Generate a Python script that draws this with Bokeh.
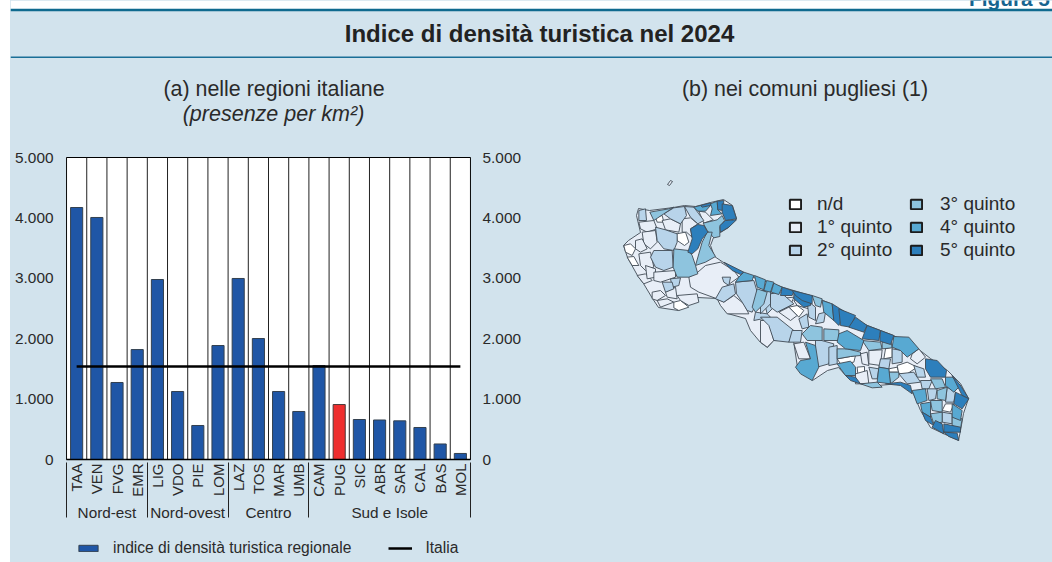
import math
from bokeh.plotting import figure
from bokeh.layouts import column, row
from bokeh.models import (Range1d, FactorRange, LinearAxis, FixedTicker, Legend, LegendItem)
from bokeh.core.properties import value
from bokeh.embed import file_html
from bokeh.resources import INLINE

PANEL = "#d2e3ed"
TEXT = "#2a2a2a"
FONT = value("Liberation Sans")
BG = {"background-color": PANEL}

GROUPS = ["Nord-est"]*4 + ["Nord-ovest"]*4 + ["Centro"]*4 + ["Sud e Isole"]*8
REGIONS = ["TAA","VEN","FVG","EMR","LIG","VDO","PIE","LOM","LAZ","TOS","MAR","UMB","CAM","PUG","SIC","ABR","SAR","CAL","BAS","MOL"]
VALUES = [4172,4007,1275,1820,2980,1126,563,1887,2997,2003,1126,795,1556,910,662,654,640,530,257,100]
ITALIA = 1540
HIGHLIGHT = "PUG"
Y_TICKS = [0,1000,2000,3000,4000,5000]
Y_LABELS = ["0","1.000","2.000","3.000","4.000","5.000"]

QUINT_LABELS = ["n/d","1° quinto","2° quinto","3° quinto","4° quinto","5° quinto"]
QUINT_COLORS = ["#ffffff","#e8eef7","#b8d4ea","#8ec4de","#58a9d2","#2d7fbc"]

OUTLINE = [(638,208),(649,210),(673,207),(684,205),(695,206),(710,202),(723,199),(732,205),(736,218),(728,227),(720,232),(713,237),(710,245),(714,256),(723,262),(737,270),(753,277),(783,287),(810,295),(830,303),(847,315),(867,325),(893,335),(917,348),(930,358),(947,370),(960,383),(968,398),(963,413),(960,430),(958,440),(947,435),(930,427),(920,410),(913,393),(900,383),(877,385),(860,383),(847,377),(838,367),(827,370),(812,380),(797,367),(793,340),(773,340),(767,347),(760,342),(750,330),(745,318),(727,313),(717,298),(697,297),(678,310),(658,307),(652,298),(643,283),(637,275),(627,257),(623,245),(628,240),(640,232),(636,215)]
TREMITI = [(667,184),(670,180),(672,181),(669,185)]

NORTH_ND = [[(198,190),(225,185),(235,215),(222,225),(200,210)],[(40,225),(60,220),(75,235),(65,255),(45,245)],[(50,260),(70,258),(85,285),(65,285)],[(190,395),(210,390),(235,410),(205,420),(190,412)],[(245,330),(270,310),(285,320),(270,345),(250,345)],[(135,140),(155,135),(160,155),(140,155)]]
NORTH_Q1 = [[(265,122),(285,125),(308,148),(280,158)],[(180,145),(210,160),(205,185),(165,178),(155,150)],[(215,145),(240,142),(262,160),(240,175),(245,200),(228,185),(215,185)],[(85,155),(130,150),(140,175),(110,185),(90,175)],[(95,185),(135,180),(140,215),(120,235),(100,220)],[(75,210),(95,205),(110,235),(90,245),(75,235)],[(85,250),(120,245),(130,290),(105,300),(90,285)],[(80,315),(105,310),(125,330),(100,340)],[(105,285),(135,295),(135,320),(110,325)],[(130,305),(195,300),(195,320),(150,335),(130,330)],[(125,365),(150,360),(165,375),(140,390),(125,385)],[(165,365),(195,350),(200,385),(170,380)],[(140,390),(170,385),(190,395),(150,410)],[(200,375),(260,370),(265,395),(235,405),(210,390)],[(235,320),(262,305),(285,285),(330,275),(370,300),(385,320),(350,345),(320,385),(265,365),(240,350)],[(320,385),(340,395),(370,375),(400,400),(415,430),(350,430),(330,405)],[(500,385),(550,380),(540,405),(510,420)]]
NORTH_Q2 = [[(85,120),(105,115),(108,150),(85,150)],[(160,130),(190,112),(222,108),(228,135),(210,160),(180,145)],[(222,108),(250,110),(265,130),(280,150),(262,160),(240,140)],[(135,170),(165,178),(200,190),(200,215),(190,240),(160,235),(140,210)],[(130,240),(185,240),(188,290),(160,300),(135,290),(120,260)],[(180,325),(210,322),(205,345),(185,350)],[(155,335),(185,335),(190,355),(165,365)],[(335,320),(360,320),(355,345),(340,335)],[(335,350),(370,340),(375,370),(340,395),(315,385)],[(375,335),(430,330),(445,380),(425,425),(410,420),(395,395),(378,370)],[(470,365),(505,375),(500,400),(470,430),(465,410)],[(435,425),(470,430),(480,440),(430,450)]]
NORTH_Q3 = [[(118,125),(175,115),(190,110),(160,130),(130,150)],[(278,158),(320,148),(335,135),(342,150),(328,170),(328,198),(310,202),(290,180)],[(290,185),(305,185),(295,225),(315,258),(285,275),(255,285),(265,250),(275,215)],[(190,235),(235,240),(245,255),(255,285),(262,310),(235,320),(200,320),(188,290)],[(440,355),(470,365),(460,400),(435,425),(425,410)]]
NORTH_Q4 = [[(250,110),(270,105),(300,105),(285,122),(262,122)],[(300,100),(320,92),(322,118),(335,130),(300,135),(305,115)],[(385,320),(400,305),(430,315),(425,330),(375,335)],[(432,315),(465,328),(460,358),(440,350)],[(468,330),(490,335),(480,365),(460,360)],[(490,338),(515,350),(505,372),(482,365)]]
NORTH_Q5 = [[(320,92),(340,90),(338,120),(322,118)],[(335,100),(365,105),(378,145),(345,150),(335,125)],[(345,150),(378,148),(355,170),(330,185),(328,165)],[(262,162),(280,165),(292,185),(275,205),(262,235),(245,250),(232,245),(245,205),(240,175)],[(270,105),(300,97),(300,105),(275,110)],[(340,275),(380,295),(400,305),(390,312),(365,300)],[(515,350),(550,362),(545,375),(510,375)],[(550,362),(600,380),(600,405),(580,410),(550,385)]]

SOUTH_ND = [[(85,110),(110,105),(130,120),(115,140)],[(375,235),(395,230),(395,260),(370,265)],[(230,265),(270,258),(285,255),(280,275),(240,280)],[(385,295),(410,290),(415,305),(385,305)],[(410,285),(440,275),(470,290),(440,310),(415,310)],[(555,400),(580,400),(570,425),(545,420)],[(290,290),(312,288),(312,312),(292,310)]]
SOUTH_Q1 = [[(0,150),(25,150),(40,210),(20,230),(0,215)],[(55,125),(85,110),(110,135),(90,150)],[(100,90),(130,80),(145,115),(110,105)],[(325,240),(365,238),(360,285),(325,280)],[(100,220),(130,215),(150,265),(115,265)],[(300,250),(320,245),(325,285),(305,280)],[(475,235),(495,260),(470,280),(450,265),(455,250)],[(285,310),(320,300),(325,340),(285,340)]]
SOUTH_Q2 = [[(0,140),(50,140),(100,180),(85,215),(40,210),(25,165)],[(95,180),(125,180),(120,215),(85,215)],[(0,60),(30,60),(30,100),(0,130)],[(30,70),(60,65),(100,100),(70,115),(50,125),(30,110)],[(115,145),(140,130),(145,170),(125,175)],[(140,90),(165,110),(165,150),(145,140)],[(175,130),(195,125),(190,155),(165,160)],[(360,265),(390,265),(385,295),(355,290)],[(165,205),(220,220),(205,280),(170,290),(165,250)],[(205,230),(230,225),(230,280),(205,285)],[(325,290),(355,295),(350,325),(335,325)],[(395,235),(425,240),(425,275),(395,280)],[(415,310),(460,305),(480,335),(440,340)],[(460,285),(490,295),(495,320),(470,320)],[(480,330),(515,330),(505,355),(485,355)],[(500,355),(530,355),(525,385),(505,390)],[(560,350),(585,365),(580,395),(555,395)],[(545,425),(575,430),(575,460),(545,455)]]
SOUTH_Q3 = [[(155,75),(185,85),(180,110),(165,105)],[(150,165),(185,170),(185,210),(140,210),(125,190)],[(190,175),(235,178),(235,210),(190,210)],[(305,210),(360,215),(365,235),(325,240)],[(365,215),(390,205),(395,232),(365,235)],[(230,235),(260,235),(300,245),(300,255),(270,258),(230,265)],[(385,305),(415,305),(415,320),(390,340)],[(300,340),(350,335),(365,350),(335,352)],[(500,280),(515,280),(515,310),(505,305)],[(510,325),(545,325),(555,350),(525,355)],[(530,360),(560,350),(555,390),(530,385)],[(510,390),(545,390),(545,425),(515,420)],[(510,430),(545,425),(545,455),(520,460)],[(575,440),(605,445),(600,475),(575,465)]]
SOUTH_Q4 = [[(185,90),(215,100),(220,150),(190,125)],[(400,198),(445,200),(475,235),(440,260),(420,240),(395,230)],[(235,190),(260,180),(310,210),(300,240),(255,235),(230,215)],[(135,215),(165,225),(175,290),(155,330),(120,310),(105,290),(120,270),(150,265)],[(230,280),(270,272),(285,290),(285,315),(255,315)],[(355,290),(385,295),(390,340),(350,335)],[(555,320),(575,320),(600,345),(580,365),(555,345)],[(455,360),(495,355),(500,390),(470,400)],[(480,400),(510,395),(510,440),(485,425)],[(575,400),(605,420),(600,450),(575,440)]]
SOUTH_Q5 = [[(95,60),(155,75),(155,100),(125,90),(105,75)],[(215,100),(255,125),(235,165),(220,150)],[(235,115),(285,135),(270,170),(240,165)],[(285,140),(320,165),(310,185),(265,170)],[(320,165),(360,180),(355,210),(305,205)],[(360,180),(400,195),(390,222),(358,212)],[(255,315),(285,320),(300,340),(270,330)],[(375,340),(420,335),(450,345),(455,370),(420,345)],[(495,265),(530,270),(558,300),(555,320),(510,320),(495,295)],[(575,315),(600,345),(625,385),(605,375)],[(585,365),(625,385),(605,415),(580,400)],[(485,425),(510,440),(520,465),(495,450)],[(525,450),(545,460),(550,490),(515,470)],[(550,460),(600,470),(600,485),(550,485)],[(550,485),(590,488),(595,510),(565,498)]]

NORTH = [NORTH_ND, NORTH_Q1, NORTH_Q2, NORTH_Q3, NORTH_Q4, NORTH_Q5]
SOUTH = [SOUTH_ND, SOUTH_Q1, SOUTH_Q2, SOUTH_Q3, SOUTH_Q4, SOUTH_Q5]

# ---- header band -----------------------------------------------------------
head = figure(width=1042, height=130, output_backend="svg", toolbar_location=None,
              x_range=Range1d(10,1052), y_range=Range1d(130,0), min_border=0,
              x_axis_type=None, y_axis_type=None, outline_line_color=None,
              background_fill_color=PANEL, border_fill_color=PANEL, styles=BG)
head.grid.visible = False
head.quad(left=[10], right=[1052], top=[0], bottom=[9], color="white", line_color=None)
head.text(x=[968.5], y=[-2.5], text=["Figura 5"], text_font=FONT, text_font_style="bold", text_color="#17648f",
          text_font_size=value("20.8px"), text_align="left", text_baseline="alphabetic")
head.quad(left=[10], right=[1052], top=[8.2], bottom=[10.8], color="#0f6a8f", line_color=None)
head.quad(left=[10], right=[1052], top=[56], bottom=[57.4], color="#1a6f97", line_color=None)
head.text(x=[539], y=[33], text=["Indice di densità turistica nel 2024"], text_font=FONT, text_font_style="bold",
          text_color="#222222", text_font_size=value("24px"), text_align="center", text_baseline="middle")
head.text(x=[273.5,804.5], y=[88,88], text=["(a) nelle regioni italiane","(b) nei comuni pugliesi (1)"], text_font=FONT,
          text_color=TEXT, text_font_size=value("21.4px"), text_align="center", text_baseline="middle")
head.text(x=[273], y=[113.5], text=["(presenze per km²)"], text_font=FONT, text_font_style="italic",
          text_color=TEXT, text_font_size=value("21.5px"), text_align="center", text_baseline="middle")

# ---- bar chart -------------------------------------------------------------
factors = list(zip(GROUPS, REGIONS))
# one blank factor at each end, kept outside the visible range, gives the outer group separators
all_factors = [(" ", " ")] + factors + [("  ", "  ")]
chart = figure(width=550, height=400, output_backend="svg", toolbar_location=None,
               x_range=FactorRange(factors=all_factors, factor_padding=0, group_padding=0,
                                   range_padding=-1.996/len(all_factors)),
               y_range=Range1d(0,5000), min_border_left=56, min_border_right=90, min_border_top=27, min_border_bottom=71,
               background_fill_color="white", border_fill_color=PANEL, styles=BG,
               outline_line_color="black", outline_line_width=1)
chart.grid.visible = False
edges = [(g, r, -0.5) for g, r in factors] + [factors[-1] + (0.5,)]
chart.segment(x0=edges, x1=edges, y0=[0]*len(edges), y1=[Y_TICKS[-1]]*len(edges), line_color="#222222", line_width=1)

main_f = [f for f in factors if f[1] != HIGHLIGHT]
main_v = [v for f, v in zip(factors, VALUES) if f[1] != HIGHLIGHT]
hi_f = [f for f in factors if f[1] == HIGHLIGHT]
hi_v = [v for f, v in zip(factors, VALUES) if f[1] == HIGHLIGHT]
BAR_STYLE = dict(fill_color="#1f56a6", line_color="#33404f", line_width=1)
chart.vbar(x=main_f, top=main_v, width=0.6, **BAR_STYLE)
chart.vbar(x=hi_f, top=hi_v, width=0.6, fill_color="#ee2e2e", line_color="#4a3a3a", line_width=1)
chart.line(x=[factors[0], factors[-1]], y=[ITALIA, ITALIA], line_color="black", line_width=2.5)

chart.yaxis[0].ticker = FixedTicker(ticks=Y_TICKS)
chart.yaxis[0].major_label_overrides = dict(zip(Y_TICKS, Y_LABELS))
right = LinearAxis(ticker=FixedTicker(ticks=Y_TICKS), major_label_overrides=dict(zip(Y_TICKS, Y_LABELS)))
chart.add_layout(right, "right")
for ax in (chart.yaxis[0], right):
    ax.axis_line_color = None
    ax.major_tick_line_color = None
    ax.major_tick_out = 0
    ax.major_tick_in = 0
    ax.minor_tick_line_color = None
    ax.minor_tick_out = 0
    ax.major_label_text_font = "Liberation Sans"
    ax.major_label_text_font_size = "15.4px"
    ax.major_label_text_color = TEXT
    ax.major_label_standoff = 13
right.major_label_standoff = 12

xa = chart.xaxis[0]
xa.axis_line_color = "black"
xa.axis_line_width = 1.5
xa.major_tick_line_color = None
xa.major_tick_out = 0
xa.major_tick_in = 0
xa.minor_tick_line_color = None
xa.major_label_orientation = math.pi/2
xa.major_label_text_font = "Liberation Sans"
xa.major_label_text_font_size = "15px"
xa.major_label_text_color = TEXT
xa.major_label_standoff = 4
xa.group_text_font = "Liberation Sans"
xa.group_text_font_size = "15.3px"
xa.group_text_font_style = "normal"
xa.group_text_color = TEXT
xa.separator_line_color = "#222222"
xa.separator_line_width = 1

# ---- map -------------------------------------------------------------------
mp = figure(width=492, height=400, output_backend="svg", toolbar_location=None,
            x_range=Range1d(560,1052), y_range=Range1d(459,157), min_border_left=0, min_border_right=0,
            min_border_top=27, min_border_bottom=71,
            x_axis_type=None, y_axis_type=None, outline_line_color=None,
            background_fill_color=PANEL, border_fill_color=PANEL, styles=BG)
mp.grid.visible = False

BORDER = "#414b55"
mp.patches(xs=[[p[0] for p in OUTLINE],[p[0] for p in TREMITI]], ys=[[p[1] for p in OUTLINE],[p[1] for p in TREMITI]],
           fill_color=QUINT_COLORS[1], line_color=BORDER, line_width=0.9)
items = []
for i, col in enumerate(QUINT_COLORS):
    xs = [[610+x/3 for x, _ in poly] for poly in NORTH[i]] + [[760+x/3 for x, _ in poly] for poly in SOUTH[i]]
    ys = [[170+y/3 for _, y in poly] for poly in NORTH[i]] + [[270+y/3 for _, y in poly] for poly in SOUTH[i]]
    mp.patches(xs=xs, ys=ys, fill_color=col, line_color=BORDER, line_width=0.9)
    key = mp.patches(xs=[[]], ys=[[]], fill_color=col, line_color="#1c1c1c", line_width=2)
    items.append(LegendItem(label=QUINT_LABELS[i], renderers=[key]))

LEG_KW = dict(glyph_width=14, glyph_height=12, spacing=1, padding=0, margin=0,
              background_fill_alpha=0, border_line_alpha=0,
              label_text_font="Liberation Sans", label_text_font_size="19px", label_text_color=TEXT)
mp.add_layout(Legend(items=items[:3], location=(228,198), label_standoff=15, **LEG_KW), "center")
mp.add_layout(Legend(items=items[3:], location=(349,198), label_standoff=17, **LEG_KW), "center")

# ---- bottom legend ---------------------------------------------------------
foot = figure(width=1042, height=32, output_backend="svg", toolbar_location=None,
              x_range=Range1d(10,1052), y_range=Range1d(562,530), min_border=0,
              x_axis_type=None, y_axis_type=None, outline_line_color=None,
              background_fill_color=PANEL, border_fill_color=PANEL, styles=BG)
foot.grid.visible = False
key_bar = foot.patches(xs=[[]], ys=[[]], **BAR_STYLE)
key_line = foot.multi_line(xs=[[]], ys=[[]], line_color="black", line_width=2.5)
foot.add_layout(Legend(items=[LegendItem(label="indice di densità turistica regionale", renderers=[key_bar]),
                              LegendItem(label="Italia", renderers=[key_line])],
                       orientation="horizontal", location=(66,5), glyph_width=24, glyph_height=8, label_standoff=13,
                       spacing=37, padding=0, margin=0, background_fill_alpha=0, border_line_alpha=0,
                       label_text_font="Liberation Sans", label_text_font_size="15.6px", label_text_color=TEXT), "center")

page = column(head, row(chart, mp, spacing=0, styles=BG), foot, spacing=0, margin=(0,0,0,10), styles=BG)
open("out.html", "w").write(file_html(page, INLINE))
